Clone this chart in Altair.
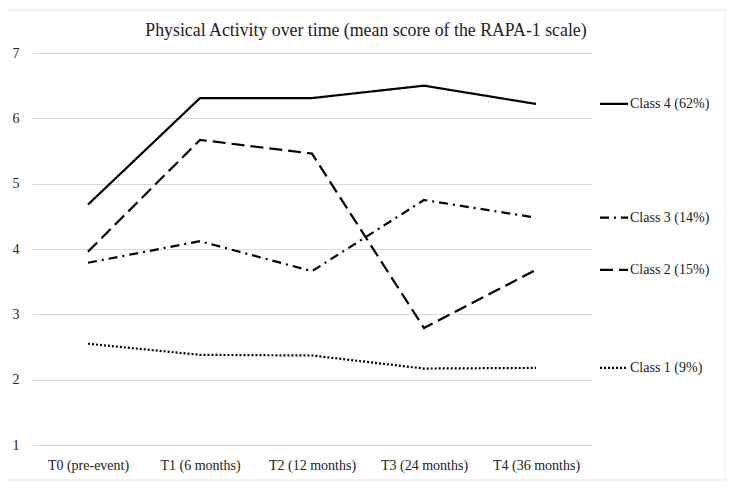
import altair as alt
import pandas as pd

title_text = "Physical Activity over time (mean score of the RAPA-1 scale)"
times = ["T0 (pre-event)", "T1 (6 months)", "T2 (12 months)", "T3 (24 months)", "T4 (36 months)"]
classes = ["Class 4 (62%)", "Class 3 (14%)", "Class 2 (15%)", "Class 1 (9%)"]
class4 = [4.68, 6.31, 6.31, 6.50, 6.22]
class3 = [3.79, 4.12, 3.66, 4.75, 4.48]
class2 = [3.96, 5.67, 5.46, 2.79, 3.68]
class1 = [2.55, 2.38, 2.37, 2.17, 2.18]
series = [class4, class3, class2, class1]

rows = []
for c, vals in zip(classes, series):
    for t, v in zip(times, vals):
        rows.append({"time": t, "cls": c, "value": v})
df = pd.DataFrame(rows)
last = pd.DataFrame({"cls": classes, "value": [s[-1] for s in series]})

FONT = "Liberation Serif"
dash_scale = alt.Scale(domain=classes, range=[[1, 0], [9, 5, 2, 5], [13, 6], [2, 2]])
width_scale = alt.Scale(domain=classes, range=[2.2, 2.2, 2.2, 1.7])

y_scale = alt.Scale(domain=[1, 7])

frame = alt.Chart(pd.DataFrame({"k": [0]})).mark_rect(
    fill="transparent", stroke="#e4e4e4", strokeWidth=1
).encode(
    x=alt.value(-27), x2=alt.value(694), y=alt.value(-43), y2=alt.value(427)
)

title = alt.Chart(pd.DataFrame({"t": [title_text]})).mark_text(
    align="center", baseline="alphabetic", font=FONT, fontSize=17.8, color="#222"
).encode(x=alt.value(334), y=alt.value(-17), text="t:N")

lines = alt.Chart(df).mark_line(color="black").encode(
    x=alt.X("time:O", sort=times, title=None,
            axis=alt.Axis(labelAngle=0, domain=False, ticks=False, labelPadding=13,
                          labelFont=FONT, labelFontSize=14, labelColor="#222")),
    y=alt.Y("value:Q", scale=y_scale, title=None,
            axis=alt.Axis(values=[1, 2, 3, 4, 5, 6, 7], format="d", domain=False, ticks=False,
                          labelPadding=13, gridColor="#d9d9d9", gridWidth=1,
                          labelFont=FONT, labelFontSize=14, labelColor="#222")),
    strokeDash=alt.StrokeDash("cls:N", scale=dash_scale, legend=None),
    strokeWidth=alt.StrokeWidth("cls:N", scale=width_scale, legend=None),
    detail="cls:N",
)

leg_rules = alt.Chart(last).mark_rule(color="black").encode(
    x=alt.value(568), x2=alt.value(596),
    y=alt.Y("value:Q", scale=y_scale),
    strokeDash=alt.StrokeDash("cls:N", scale=dash_scale, legend=None),
    strokeWidth=alt.StrokeWidth("cls:N", scale=width_scale, legend=None),
)

leg_text = alt.Chart(last).mark_text(align="left", baseline="middle", font=FONT, fontSize=14, color="#222").encode(
    x=alt.value(598),
    y=alt.Y("value:Q", scale=y_scale),
    text="cls:N",
)

chart = alt.layer(frame, title, lines, leg_rules, leg_text).properties(
    width=560, height=392,
    autosize=alt.AutoSizeParams(type="none"),
    padding={"left": 24, "top": 45, "right": 134, "bottom": 37},
).configure_view(stroke=None).configure_axis(gridColor="#d9d9d9")

chart.save("out.html", embed_options={"renderer": "svg", "actions": False})
